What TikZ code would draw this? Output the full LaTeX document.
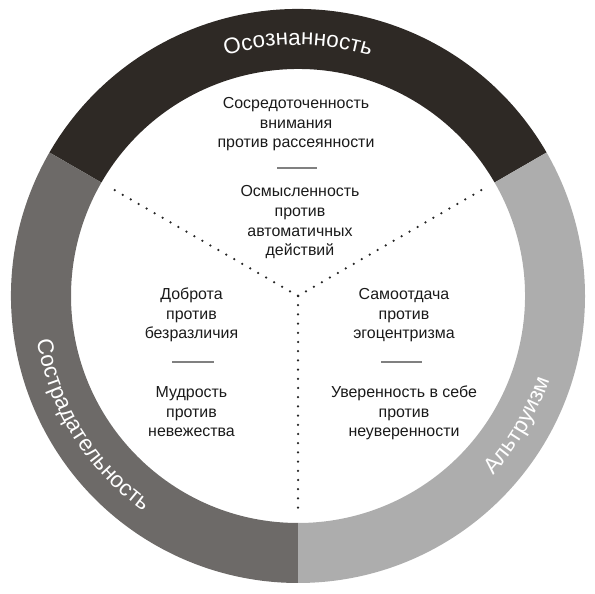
\documentclass[tikz,border=0pt]{standalone}
\usepackage{fontspec}
\setmainfont{Liberation Sans}
\usetikzlibrary{decorations.text}
\definecolor{ringdark}{HTML}{2E2925}
\definecolor{ringmid}{HTML}{6D6A68}
\definecolor{ringlight}{HTML}{ADADAD}
\definecolor{sepgray}{HTML}{808080}
\definecolor{txt}{HTML}{1A1A1A}
\newcommand\ringfont{\fontsize{22.5}{27}\selectfont\color{white}}
\begin{document}
\begin{tikzpicture}[x=1bp,y=1bp,
  inner/.style={font=\fontsize{16}{20}\selectfont, text=txt, align=center, anchor=base, inner sep=0pt},
  sepline/.style={draw=sepgray, line width=1.5bp},
  dots/.style={draw=black!85, line width=2.5bp, dash pattern=on 0pt off 9.2bp, line cap=round},
  ringlabel/.style={decorate, decoration={text along path, text align=center, text={|\ringfont|#1}}}
]
\useasboundingbox (0,0) rectangle (595,594);
\coordinate (c) at (298,298);
% ring segments
\fill[ringdark] ([shift={(30:287)}]c) arc[start angle=30,end angle=150,radius=287]
  -- ([shift={(150:227)}]c) arc[start angle=150,end angle=30,radius=227] -- cycle;
\fill[ringmid] ([shift={(150:287)}]c) arc[start angle=150,end angle=270,radius=287]
  -- ([shift={(270:227)}]c) arc[start angle=270,end angle=150,radius=227] -- cycle;
\fill[ringlight] ([shift={(270:287)}]c) arc[start angle=270,end angle=390,radius=287]
  -- ([shift={(390:227)}]c) arc[start angle=390,end angle=270,radius=227] -- cycle;
% ring labels
\path[ringlabel=Осознанность] ([shift={(130:251)}]c) arc[start angle=130,end angle=50,radius=251];
\path[ringlabel=Сострадательность] ([shift={(172:265)}]c) arc[start angle=172,end angle=252,radius=265];
\path[ringlabel=Альтруизм] ([shift={(299.5:265)}]c) arc[start angle=299.5,end angle=359.5,radius=265];
% dotted dividers
\coordinate (dl) at ([shift={(150:219)}]c);
\coordinate (dr) at ([shift={(30:219)}]c);
\coordinate (db) at ([shift={(270:219)}]c);
\draw[dots] (c) -- (dl);
\draw[dots] (c) -- (dr);
\draw[dots] (c) -- (db);
% texts (anchor = baseline of last line)
\node[inner] (t1) at (296,446) {Сосредоточенность\\внимания\\против рассеянности};
\node[inner] (t2) at (300,338) {Осмысленность\\против\\автоматичных\\действий};
\node[inner] (l1) at (191.5,255) {Доброта\\против\\безразличия};
\node[inner] (l2) at (191.5,157) {Мудрость\\против\\невежества};
\node[inner] (r1) at (404,255) {Самоотдача\\против\\эгоцентризма};
\node[inner] (r2) at (404,157) {Уверенность в себе\\против\\неуверенности};
% separators
\draw[sepline] (277,426) -- (317,426);
\draw[sepline] (172,232) -- (214,232);
\draw[sepline] (381,232) -- (422,232);
\end{tikzpicture}
\end{document}
